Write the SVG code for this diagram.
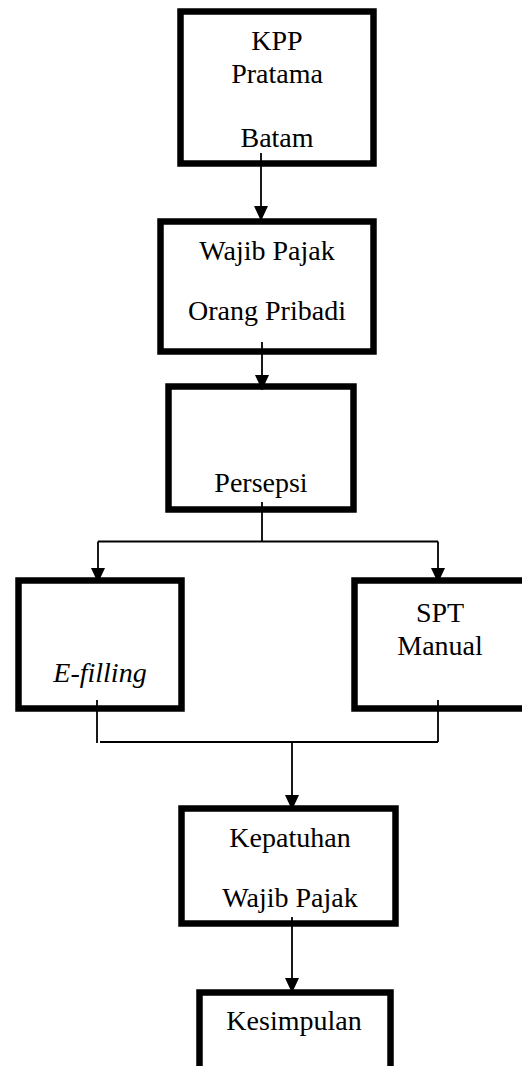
<svg xmlns="http://www.w3.org/2000/svg" width="522" height="1066" viewBox="0 0 522 1066">
<style>
.box{fill:#fff;stroke:#000;stroke-width:6.5}
.t{font-family:"Liberation Serif","Times New Roman",serif;font-size:28px;fill:#000;text-anchor:middle}
.i{font-style:italic}
.c{fill:none;stroke:#000;stroke-width:1.8}
</style>
<defs>
<marker id="ah" markerUnits="userSpaceOnUse" markerWidth="15" markerHeight="14" refX="15" refY="7" orient="auto" viewBox="0 0 15 14">
<path d="M0,0 L15,7 L0,14 z" fill="#000"/>
</marker>
</defs>
<rect width="522" height="1066" fill="#fff"/>
<g id="n1">
<rect class="box" x="180.5" y="11.5" width="193" height="152"/>
<text class="t" x="277" y="50">KPP</text>
<text class="t" x="277" y="83">Pratama</text>
<text class="t" x="277" y="147">Batam</text>
</g>
<g id="n2">
<rect class="box" x="160.5" y="221.5" width="213" height="130"/>
<text class="t" x="267" y="260">Wajib Pajak</text>
<text class="t" x="267" y="320">Orang Pribadi</text>
</g>
<g id="n3">
<rect class="box" x="168.5" y="386.5" width="185" height="123"/>
<text class="t" x="261" y="492">Persepsi</text>
</g>
<g id="n4">
<rect class="box" x="18.5" y="580.5" width="163" height="128"/>
<text class="t i" x="100" y="682">E-filling</text>
</g>
<g id="n5">
<rect class="box" x="354.5" y="580.5" width="171" height="128"/>
<text class="t" x="440" y="622">SPT</text>
<text class="t" x="440" y="655">Manual</text>
</g>
<g id="n6">
<rect class="box" x="181.5" y="808.5" width="214" height="115"/>
<text class="t" x="290" y="847">Kepatuhan</text>
<text class="t" x="290" y="907">Wajib Pajak</text>
</g>
<g id="n7">
<rect class="box" x="199.5" y="992.5" width="191" height="100"/>
<text class="t" x="294" y="1030">Kesimpulan</text>
</g>
<g id="connectors">
<path class="c" d="M261,153 V221" marker-end="url(#ah)"/>
<path class="c" d="M262,342 V390" marker-end="url(#ah)"/>
<path class="c" d="M262,502 V541.5"/>
<path class="c" d="M98,541.5 H438"/>
<path class="c" d="M98,541.5 V583" marker-end="url(#ah)"/>
<path class="c" d="M438,541.5 V583" marker-end="url(#ah)"/>
<path class="c" d="M97,700 V743"/>
<path class="c" d="M438,700 V742"/>
<path class="c" d="M100,742 H438"/>
<path class="c" d="M292,742 V810" marker-end="url(#ah)"/>
<path class="c" d="M292,917 V993" marker-end="url(#ah)"/>
</g>
</svg>
